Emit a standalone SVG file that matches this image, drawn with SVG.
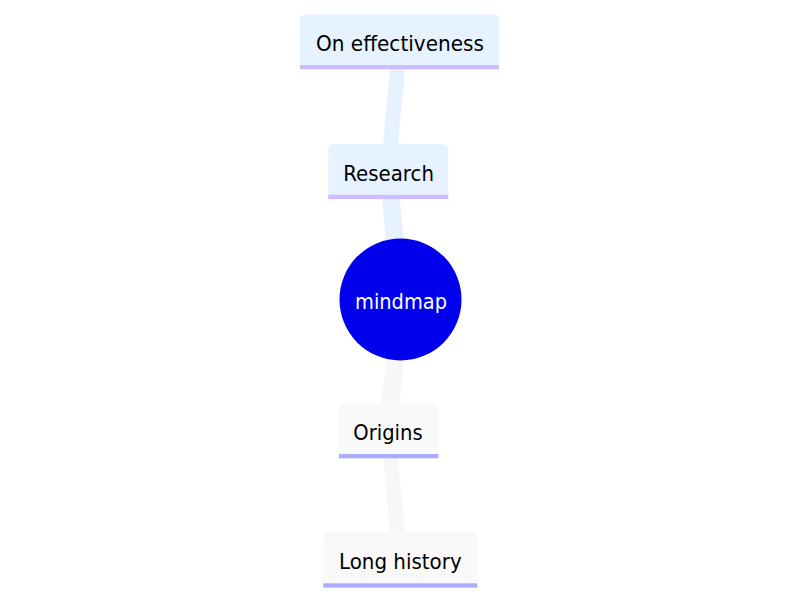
<svg xmlns="http://www.w3.org/2000/svg" width="800" height="600" viewBox="0 0 800 600">
<style>
.lbl{font-family:"DejaVu Sans","Liberation Sans",sans-serif;font-size:21.5px;fill:#000;text-anchor:middle}
.root{font-family:"DejaVu Sans","Liberation Sans",sans-serif;font-size:21.5px;fill:#fff;text-anchor:middle}
.blue{fill:#e6f2ff}
.grey{fill:#f9f9f9}
.barb{fill:#cdbcff}
.barg{fill:#aaaaff}
.eb{stroke:#e6f2ff;fill:none}
.eg{stroke:#f7f7f7;fill:none}
</style>
<rect width="800" height="600" fill="#fff"/>
<g id="edges">
<line class="eb" x1="401" y1="300" x2="388" y2="171" stroke-width="18"/>
<line class="eb" x1="388" y1="171" x2="400" y2="42" stroke-width="15"/>
<line class="eg" x1="401" y1="300" x2="388" y2="430" stroke-width="18"/>
<line class="eg" x1="388" y1="430" x2="400" y2="560" stroke-width="15"/>
</g>
<g id="node-on-effectiveness">
<path class="blue" d="M300,69 V19.5 a5,5 0 0 1 5,-5 H494 a5,5 0 0 1 5,5 V69 Z"/>
<rect class="barb" x="300" y="65" width="199" height="4.3"/>
<text class="lbl" x="400" y="50.5" textLength="168" lengthAdjust="spacingAndGlyphs">On effectiveness</text>
</g>
<g id="node-research">
<path class="blue" d="M328.3,199 V149.3 a5,5 0 0 1 5,-5 H443.3 a5,5 0 0 1 5,5 V199 Z"/>
<rect class="barb" x="328.3" y="194.8" width="120" height="4.3"/>
<text class="lbl" x="388.6" y="180.7" textLength="90.7" lengthAdjust="spacingAndGlyphs">Research</text>
</g>
<g id="node-mindmap">
<circle cx="400.5" cy="299.5" r="61" fill="#0000ec"/>
<text class="root" x="401" y="308.5" textLength="92" lengthAdjust="spacingAndGlyphs">mindmap</text>
</g>
<g id="node-origins">
<path class="grey" d="M339,458.3 V408.3 a5,5 0 0 1 5,-5 H433.3 a5,5 0 0 1 5,5 V458.3 Z"/>
<rect class="barg" x="339" y="454" width="99.3" height="4.3"/>
<text class="lbl" x="388" y="440" textLength="69.3" lengthAdjust="spacingAndGlyphs">Origins</text>
</g>
<g id="node-long-history">
<path class="grey" d="M323.3,587.6 V537.3 a5,5 0 0 1 5,-5 H472.3 a5,5 0 0 1 5,5 V587.6 Z"/>
<rect class="barg" x="323.3" y="583.3" width="154" height="4.3"/>
<text class="lbl" x="400.3" y="568.5" textLength="122.7" lengthAdjust="spacingAndGlyphs">Long history</text>
</g>
</svg>
